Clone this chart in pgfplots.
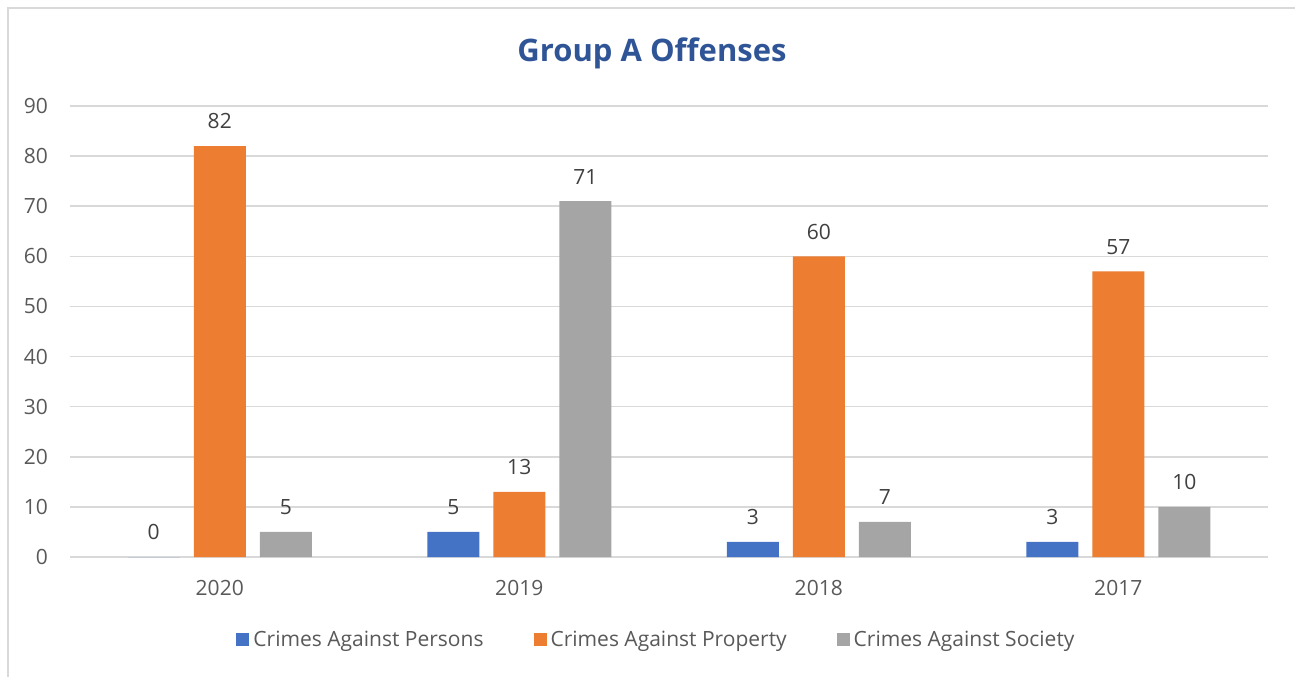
\documentclass[border=0pt]{standalone}
\usepackage{pgfplots}
\pgfplotsset{compat=1.18}
\usepackage{fontspec}
\setmainfont{Open Sans}
\definecolor{persons}{HTML}{4472C4}
\definecolor{property}{HTML}{ED7D31}
\definecolor{society}{HTML}{A5A5A5}
\definecolor{titleblue}{HTML}{2F5597}
\definecolor{gridgray}{HTML}{D9D9D9}
\definecolor{ticktext}{HTML}{595959}
\definecolor{labeltext}{HTML}{404040}
\begin{document}
\begin{tikzpicture}
    \useasboundingbox (0pt,0pt) rectangle (647.5pt,338.5pt);
    \draw[gridgray,line width=0.75pt] (4pt,0pt) -- (4pt,334.5pt) -- (647.5pt,334.5pt);
    \node[font=\fontsize{15.5}{18}\selectfont\bfseries,text=titleblue] at (326pt,312pt) {Group A Offenses};
    \begin{axis}[
        at={(35pt,60pt)},anchor=south west,
        scale only axis,width=599pt,height=225.5pt,
        ybar=7pt,bar width=26pt,
        xmin=-0.5,xmax=3.5,ymin=0,ymax=90,
        xtick={0,1,2,3},xticklabels={2020,2019,2018,2017},
        ytick={0,10,...,90},
        ymajorgrids,grid style={draw=gridgray,line width=0.75pt},
        axis line style={draw=none},
        major tick length=0pt,
        tick label style={font=\fontsize{10.5}{12}\selectfont,text=ticktext},
        yticklabel style={xshift=-7.5pt},
        xticklabel style={yshift=-8pt},
        /pgf/number format/assume math mode=true,
        nodes near coords,
        nodes near coords style={font=\fontsize{10.5}{12}\selectfont,text=labeltext,yshift=5pt},
        legend columns=3,
        legend style={at={(0.4904,-0.184)},anchor=center,draw=none,
            font=\fontsize{10.5}{12}\selectfont,text=ticktext,
            /tikz/every even column/.append style={column sep=23pt}},
        legend image code/.code={\fill[#1] (0pt,-3.25pt) rectangle (6.5pt,3.25pt);},
    ]
        \addplot[fill=persons,draw=none] coordinates {(0,0) (1,5) (2,3) (3,3)};
        \addplot[fill=property,draw=none] coordinates {(0,82) (1,13) (2,60) (3,57)};
        \addplot[fill=society,draw=none] coordinates {(0,5) (1,71) (2,7) (3,10)};
        \legend{Crimes Against Persons,Crimes Against Property,Crimes Against Society}
    \end{axis}
\end{tikzpicture}
\end{document}
